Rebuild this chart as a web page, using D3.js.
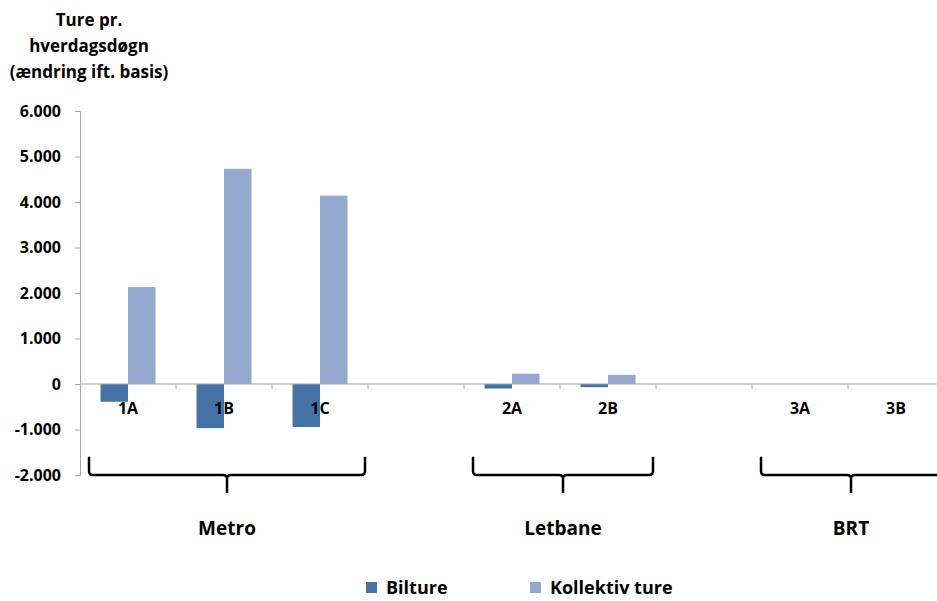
<!DOCTYPE html>
<html lang="da">
  <head>
    <meta charset="UTF-8" />
    <title>Ture pr. hverdagsdøgn</title>
    <script src="https://d3js.org/d3.v7.min.js"></script>
    <style>
      body {
        margin: 0;
        background: #fff;
      }
      svg {
        display: block;
        font-family: "Open Sans", sans-serif;
        font-weight: bold;
      }
    </style>
  </head>
  <body>
    <svg id="chart"></svg>
    <script>
      // categories along the x axis ("" = empty slot between groups)
      const categories = ["1A", "1B", "1C", "", "2A", "2B", "", "3A", "3B"];
      const series = ["Bilture", "Kollektiv ture"];
      const bilture = [-390, -970, -945, null, -100, -70, null, 0, 0];
      const kollektiv = [2130, 4730, 4140, null, 226, 200, null, 0, 0];
      const yTicks = [-2000, -1000, 0, 1000, 2000, 3000, 4000, 5000, 6000];
      // bracket groups: first and last category they span
      const groups = [
        { name: "Metro", from: "1A", to: "1C" },
        { name: "Letbane", from: "2A", to: "2B" },
        { name: "BRT", from: "3A", to: "3B" },
      ];
      const colors = ["#4572a7", "#95a9d0"];

      const width = 937;
      const height = 601;
      const margin = { left: 80, right: -7, top: 111, bottom: 126 };

      const svg = d3
        .select("#chart")
        .attr("width", width)
        .attr("height", height);

      const x = d3
        .scaleBand()
        .domain(d3.range(categories.length))
        .range([margin.left, width - margin.right]);

      const y = d3
        .scaleLinear()
        .domain([-2000, 6000])
        .range([height - margin.bottom, margin.top]);

      const da = d3.formatLocale({
        decimal: ",",
        thousands: ".",
        grouping: [3],
        currency: ["", " kr."],
        minus: "-",
      });
      const fmt = da.format(",d");

      // y axis
      const yAxis = svg
        .append("g")
        .attr("transform", `translate(${margin.left},0)`)
        .call(d3.axisLeft(y).tickValues(yTicks).tickFormat(fmt).tickSize(5).tickPadding(14));
      yAxis.select(".domain").attr("stroke", "#a6a6a6");
      yAxis.selectAll(".tick line").attr("stroke", "#a6a6a6");
      yAxis
        .selectAll(".tick text")
        .attr("fill", "#000")
        .style("font-size", "16px")
        .style("font-weight", "bold")
        .style("font-family", "Open Sans, sans-serif");

      // bars
      const barW = x.bandwidth() * 0.286;
      const cellData = [];
      categories.forEach((c, i) => {
        [bilture[i], kollektiv[i]].forEach((v, j) => {
          if (v !== null && v !== 0) cellData.push({ i, j, v });
        });
      });
      svg
        .append("g")
        .selectAll("rect")
        .data(cellData)
        .join("rect")
        .attr("x", (d) => x(d.i) + x.bandwidth() / 2 - barW + d.j * barW)
        .attr("width", barW)
        .attr("y", (d) => y(Math.max(0, d.v)))
        .attr("height", (d) => Math.abs(y(d.v) - y(0)))
        .attr("fill", (d) => colors[d.j]);

      // x axis at zero
      const x0 = y(0);
      svg
        .append("line")
        .attr("x1", margin.left)
        .attr("x2", width)
        .attr("y1", x0)
        .attr("y2", x0)
        .attr("stroke", "#a6a6a6");
      svg
        .append("g")
        .selectAll("line")
        .data(d3.range(1, categories.length + 1))
        .join("line")
        .attr("x1", (i) => margin.left + i * x.step())
        .attr("x2", (i) => margin.left + i * x.step())
        .attr("y1", x0)
        .attr("y2", x0 + 5)
        .attr("stroke", "#a6a6a6");

      svg
        .append("g")
        .selectAll("text")
        .data(categories)
        .join("text")
        .attr("x", (d, i) => x(i) + x.bandwidth() / 2)
        .attr("y", x0 + 30)
        .attr("text-anchor", "middle")
        .style("font-size", "16px")
        .text((d) => d);

      // group brackets
      const idx = (c) => categories.indexOf(c);
      groups.forEach((g) => {
        const a = x(idx(g.from)) + 9;
        const b = x(idx(g.to)) + x.bandwidth() - 3;
        const m = (a + b) / 2;
        const top = y(-1600);
        const base = y(-2000);
        const tip = base + 18;
        const r = 4;
        svg
          .append("path")
          .attr(
            "d",
            `M${a},${top} L${a},${base - r} Q${a},${base} ${a + r},${base} L${m - r},${base} Q${m},${base} ${m},${base + r} L${m},${tip}` +
              ` M${b},${top} L${b},${base - r} Q${b},${base} ${b - r},${base} L${m + r},${base} Q${m},${base} ${m},${base + r}`
          )
          .attr("fill", "none")
          .attr("stroke", "#000")
          .attr("stroke-width", 2.5);
        svg
          .append("text")
          .attr("x", m)
          .attr("y", tip + 42)
          .attr("text-anchor", "middle")
          .style("font-size", "19px")
          .text(g.name);
      });

      // y title
      const title = ["Ture pr.", "hverdagsdøgn", "(ændring ift. basis)"];
      svg
        .append("g")
        .selectAll("text")
        .data(title)
        .join("text")
        .attr("x", 89)
        .attr("y", (d, i) => 26 + i * 26)
        .attr("text-anchor", "middle")
        .style("font-size", "17px")
        .text((d) => d);

      // legend
      const legX = [366, 530];
      const leg = svg
        .append("g")
        .selectAll("g")
        .data(series)
        .join("g")
        .attr("transform", (d, i) => `translate(${legX[i]},582)`);
      leg
        .append("rect")
        .attr("width", 11)
        .attr("height", 11)
        .attr("fill", (d, i) => colors[i]);
      leg
        .append("text")
        .attr("x", 20)
        .attr("y", 12)
        .style("font-size", "18px")
        .text((d) => d);
    </script>
  </body>
</html>
